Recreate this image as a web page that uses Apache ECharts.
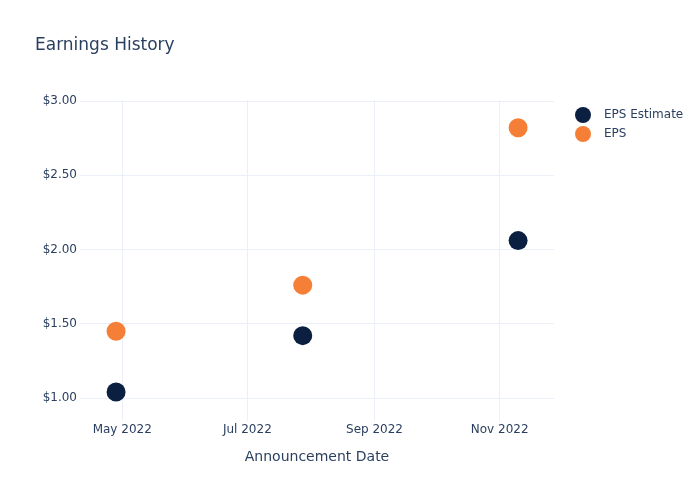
<!DOCTYPE html>
<html>
<head>
<meta charset="utf-8">
<script src="https://cdn.jsdelivr.net/npm/echarts@6/dist/echarts.min.js"></script>
<style>html,body{margin:0;padding:0;background:#fff}#c{width:700px;height:500px}</style>
</head>
<body>
<div id="c"></div>
<script>
var dates = ['2022-04-28', '2022-07-28', '2022-11-10'];
var epsEstimate = [1.04, 1.42, 2.06];
var eps = [1.45, 1.76, 2.82];
var xTickDates = ['2022-05-01', '2022-07-01', '2022-09-01', '2022-11-01'];
var yTicks = [1.00, 1.50, 2.00, 2.50, 3.00];
var monthNames = ['Jan','Feb','Mar','Apr','May','Jun','Jul','Aug','Sep','Oct','Nov','Dec'];

function ts(s) { return +new Date(s + 'T00:00:00'); }
var xTicks = xTickDates.map(ts);
var textColor = '#2a3f5f';
var gridColor = '#ebf0f8';
var font = 'DejaVu Sans';

var chart = echarts.init(document.getElementById('c'), null, {renderer: 'canvas'});
chart.setOption({
  backgroundColor: '#fff',
  animation: false,
  title: {
    text: 'Earnings History', left: 35, top: 37, padding: 0,
    textStyle: {color: textColor, fontSize: 17, fontWeight: 'normal', fontFamily: font}
  },
  legend: {
    orient: 'vertical', left: 575, top: 107, padding: 0,
    itemWidth: 28, itemHeight: 16, itemGap: 3,
    icon: 'circle',
    textStyle: {color: textColor, fontSize: 12, fontFamily: font, padding: [0, 0, 0, 2]},
    data: ['EPS Estimate', 'EPS']
  },
  grid: {left: 80, right: 146, top: 100, bottom: 79, containLabel: false},
  xAxis: {
    type: 'value',
    min: ts('2022-04-10') + 10 * 3600 * 1000,
    max: ts('2022-11-27') + 12 * 3600 * 1000,
    name: 'Announcement Date', nameLocation: 'middle', nameGap: 29,
    nameTextStyle: {color: textColor, fontSize: 14, fontFamily: font},
    axisLine: {show: false},
    axisTick: {show: false, customValues: xTicks},
    splitLine: {show: true, lineStyle: {color: gridColor, width: 1}},
    axisLabel: {
      customValues: xTicks, margin: 3,
      color: textColor, fontSize: 12, fontFamily: font,
      formatter: function (v) { var d = new Date(v); return monthNames[d.getMonth()] + ' ' + d.getFullYear(); }
    }
  },
  yAxis: {
    type: 'value', min: 0.845, max: 3.007,
    axisLine: {show: false},
    axisTick: {show: false, customValues: yTicks},
    splitLine: {show: true, lineStyle: {color: gridColor, width: 1}},
    axisLabel: {
      customValues: yTicks, margin: 3,
      color: textColor, fontSize: 12, fontFamily: font,
      formatter: function (v) { return '$' + v.toFixed(2); }
    }
  },
  series: [
    {
      name: 'EPS Estimate', type: 'scatter', symbol: 'circle', symbolSize: 19,
      itemStyle: {color: '#0b1f41', opacity: 1},
      data: dates.map(function (d, i) { return [ts(d), epsEstimate[i]]; })
    },
    {
      name: 'EPS', type: 'scatter', symbol: 'circle', symbolSize: 19,
      itemStyle: {color: '#f67f37', opacity: 1},
      data: dates.map(function (d, i) { return [ts(d), eps[i]]; })
    }
  ]
});
</script>
</body>
</html>
